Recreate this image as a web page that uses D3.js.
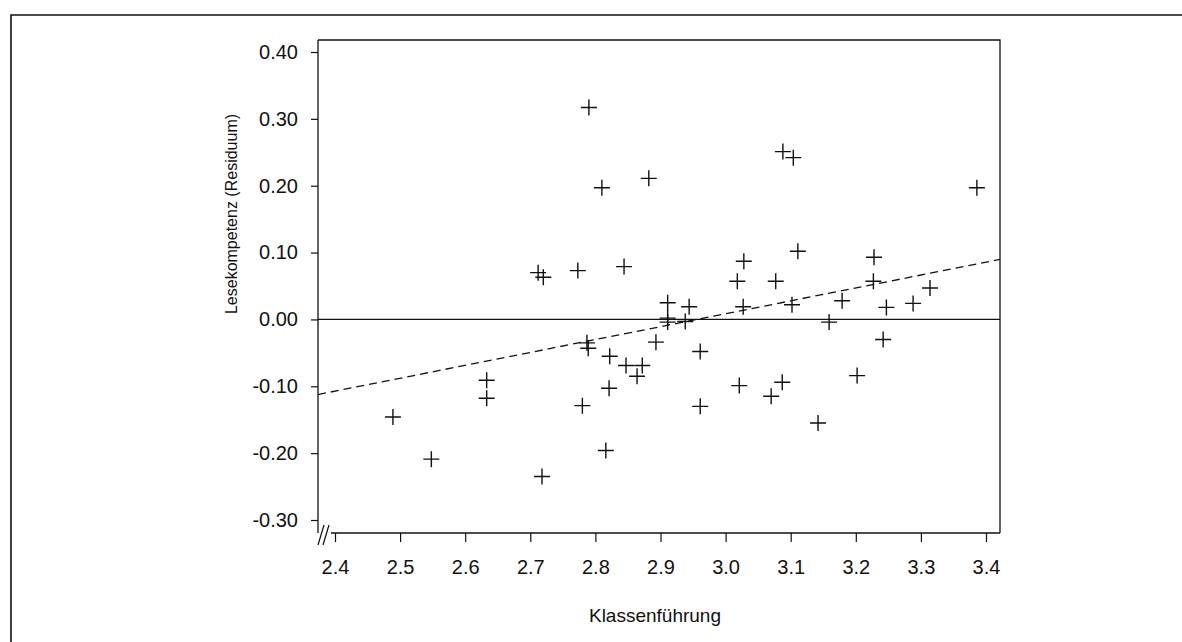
<!DOCTYPE html>
<style>
body { margin: 0; background: #fff; }
text { font-family: "Liberation Sans", Arial, sans-serif; fill: #111; }
</style>
<script src="https://d3js.org/d3.v7.min.js"></script>
<body>
<script>

// Klassenführung (x) vs. Lesekompetenz residual (y), one cross per class
var klassenfuehrung = [2.489, 2.548, 2.633, 2.633, 2.712, 2.720, 2.718, 2.773, 2.780, 2.787,
  2.789, 2.790, 2.810, 2.816, 2.821, 2.822, 2.844, 2.847, 2.864, 2.872,
  2.882, 2.893, 2.911, 2.911, 2.911, 2.938, 2.944, 2.961, 2.961, 3.018,
  3.021, 3.027, 3.028, 3.070, 3.077, 3.087, 3.088, 3.102, 3.104, 3.111,
  3.142, 3.159, 3.179, 3.202, 3.227, 3.228, 3.242, 3.247, 3.288, 3.314, 3.386];
var residuum = [-0.146, -0.209, -0.091, -0.118, 0.070, 0.063, -0.235, 0.073, -0.129, -0.035,
  -0.043, 0.317, 0.197, -0.196, -0.103, -0.055, 0.079, -0.069, -0.085, -0.069,
  0.211, -0.034, 0.025, 0.002, -0.004, -0.003, 0.019, -0.048, -0.130, 0.057,
  -0.099, 0.019, 0.087, -0.115, 0.057, -0.094, 0.251, 0.022, 0.242, 0.102,
  -0.155, -0.004, 0.028, -0.084, 0.057, 0.093, -0.030, 0.018, 0.024, 0.047, 0.197];

// regression line y = a + b*x
var regIntercept = -0.5705,
    regSlope = 0.193;

var xTicks = [2.4, 2.5, 2.6, 2.7, 2.8, 2.9, 3.0, 3.1, 3.2, 3.3, 3.4];
var yTicks = [0.40, 0.30, 0.20, 0.10, 0.00, -0.10, -0.20, -0.30];

var width = 1182,
    height = 642;

var pLeft = 318, pRight = 1000, pTop = 40, pBottom = 533;

var svg = d3.select("body").append("svg")
    .attr("width", width)
    .attr("height", height);

var x = d3.scaleLinear()
    .domain([2.4 - 17 / 651, 3.4 + 14 / 651])
    .range([pLeft, pRight]);

var y = d3.scaleLinear()
    .domain([-0.3 - 13 / 668.6, 0.4 + 12 / 668.6])
    .range([pBottom, pTop]);

// outer frame (left + top only)
svg.append("path")
    .attr("d", "M11," + height + "V15H" + width)
    .attr("fill", "none")
    .attr("stroke", "#111")
    .attr("stroke-width", 1.6);

// plot frame: top and right
svg.append("path")
    .attr("d", "M" + pLeft + "," + pTop + "H" + pRight + "V" + pBottom)
    .attr("fill", "none")
    .attr("stroke", "#111")
    .attr("stroke-width", 1.3);

// y axis
var yAxis = svg.append("g")
    .attr("transform", "translate(" + pLeft + ",0)")
    .call(d3.axisLeft(y)
      .tickValues(yTicks)
      .tickSize(7)
      .tickPadding(13)
      .tickFormat(function(d) { return d3.format(".2f")(d).replace("\u2212", "-"); }));
yAxis.select(".domain").remove();
yAxis.append("line")
    .attr("x1", 0).attr("x2", 0)
    .attr("y1", pTop).attr("y2", pBottom)
    .attr("stroke", "#111")
    .attr("stroke-width", 1.3);
yAxis.selectAll(".tick line").attr("stroke", "#111").attr("stroke-width", 1.2);
yAxis.selectAll(".tick text")
    .attr("font-size", 20)
    .attr("fill", "#111");

// x axis
var xAxis = svg.append("g")
    .attr("transform", "translate(0," + pBottom + ")")
    .call(d3.axisBottom(x)
      .tickValues(xTicks)
      .tickSize(9)
      .tickPadding(18)
      .tickFormat(d3.format(".1f")));
xAxis.select(".domain").remove();
xAxis.append("line")
    .attr("x1", x(2.4) - 4).attr("x2", pRight)
    .attr("y1", 0).attr("y2", 0)
    .attr("stroke", "#111")
    .attr("stroke-width", 1.3);
xAxis.selectAll(".tick line").attr("stroke", "#111").attr("stroke-width", 1.2);
xAxis.selectAll(".tick text")
    .attr("font-size", 20)
    .attr("fill", "#111");

// axis break marks //
svg.selectAll(".brk")
  .data([0, 5])
  .enter().append("line")
    .attr("class", "brk")
    .attr("x1", function(d) { return pLeft + d; })
    .attr("y1", pBottom + 12)
    .attr("x2", function(d) { return pLeft + d + 6; })
    .attr("y2", pBottom - 8)
    .attr("stroke", "#111")
    .attr("stroke-width", 1.2);

// zero line
svg.append("line")
    .attr("x1", pLeft).attr("x2", pRight)
    .attr("y1", y(0)).attr("y2", y(0))
    .attr("stroke", "#111")
    .attr("stroke-width", 1.2);

// regression line (dashed)
var regLine = d3.line()
    .x(function(d) { return x(d); })
    .y(function(d) { return y(regIntercept + regSlope * d); });

svg.append("path")
    .datum(x.domain())
    .attr("d", regLine)
    .attr("fill", "none")
    .attr("stroke", "#111")
    .attr("stroke-width", 1.3)
    .attr("stroke-dasharray", "8,5");

// crosses
var s = 8;
svg.selectAll(".pt")
  .data(klassenfuehrung.map(function(d, i) { return [d, residuum[i]]; }))
  .enter().append("path")
    .attr("class", "pt")
    .attr("transform", function(d) { return "translate(" + x(d[0]) + "," + y(d[1]) + ")"; })
    .attr("d", "M" + (-s) + ",0H" + s + "M0," + (-s) + "V" + s)
    .attr("stroke", "#111")
    .attr("stroke-width", 1.4)
    .attr("fill", "none");

// axis titles
svg.append("text")
    .attr("x", 655)
    .attr("y", 622)
    .attr("text-anchor", "middle")
    .attr("font-size", 19)
    .text("Klassenführung");

svg.append("text")
    .attr("transform", "translate(237,214) rotate(-90)")
    .attr("text-anchor", "middle")
    .attr("font-size", 16)
    .text("Lesekompetenz (Residuum)");

</script>
